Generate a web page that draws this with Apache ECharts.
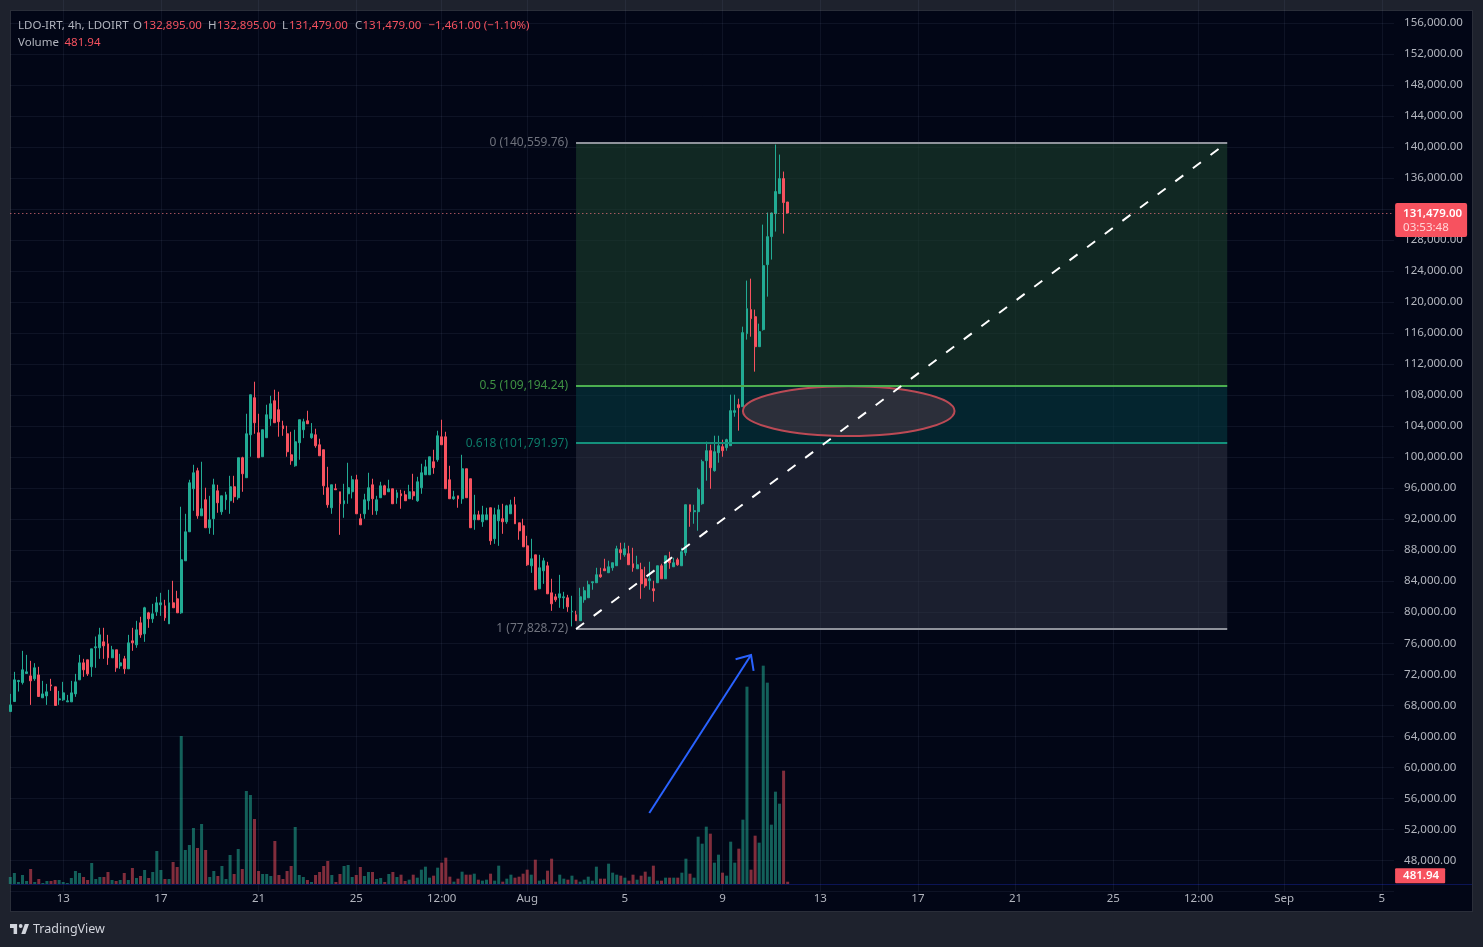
<!DOCTYPE html>
<html>
<head>
<meta charset="utf-8">
<title>LDO-IRT</title>
<script src="https://cdn.jsdelivr.net/npm/echarts@6/dist/echarts.min.js"></script>
<style>
html, body { margin: 0; padding: 0; background: #1e222d; }
#main { width: 1483px; height: 947px; }
</style>
</head>
<body>
<div id="main"></div>
<script>
// 4h candles, index 0 is the bar cut by the left edge
var opens = [67190,68480,71060,70930,72100,71790,71410,71920,68960,69210,
70630,70380,68700,68700,68440,68440,69470,71280,73470,73860,
72960,75410,75410,76180,75920,74120,75150,73080,73990,72700,
76310,75790,78630,77210,79920,79150,80050,80950,80820,78500,
81210,81730,79920,86630,90370,95920,98240,92430,94500,90890,
92050,95660,92950,94500,94370,96180,94760,99920,97340,102880,
107660,103140,100050,102500,104950,107270,106110,104040,103010,100300,
98880,101850,103530,104690,102500,102880,101590,100950,96050,93470,
95920,95530,93980,95270,95530,97080,92050,92690,94370,96430,
93080,94760,96300,95530,95920,94760,95270,95140,94630,95530,
94370,96050,97720,97720,99400,99660,102620,102620,97080,94630,
95010,94630,98500,97210,91920,92560,91660,91920,93470,89470,
91790,92050,91660,92690,93850,91530,91140,88560,85980,87400,
83020,85340,85980,82500,81980,81860,81860,81860,80060,79670,
78900,81610,81860,83800,83800,84830,85600,85090,85730,85990,
88060,87410,87540,86250,85600,85480,84310,84060,83020,83800,
85990,84310,86890,85860,86770,85990,87670,93860,92960,92960,
93990,99540,100830,98250,100570,101340,101210,101470,105770,106760,
106500,115920,119020,118110,114240,116440,124820,128430,131400,133980,135910,132895];
var closes = [68050,71280,71190,72570,72310,71150,72830,69130,69470,69730,
70500,67970,68830,69600,68570,69600,71020,73470,72570,72050,
75280,75540,77080,75660,74120,75150,72830,73470,72700,76050,
76050,77730,77080,80570,79150,79790,81210,81210,79280,81210,
80570,79920,86760,90370,96690,97980,92430,93340,90890,91920,
96430,94110,95010,95140,96180,94890,99920,97850,103010,108040,
104430,99920,103530,105460,106880,104430,104560,103660,100690,99530,
101980,104820,104560,104300,103010,101460,100170,96300,93850,96430,
95790,93980,94370,96050,97080,92690,91270,94500,96050,94630,
94500,96300,95140,95920,93980,95400,95010,94370,95530,95010,
96820,97980,98750,100040,98630,102750,101590,95920,94630,94880,
94630,98500,94760,90890,92560,91920,92560,92560,89210,92560,
93210,91660,93720,93850,91400,90500,88430,86110,86890,82890,
85730,86630,82370,81080,81600,82370,81980,80690,80140,78900,
81990,82770,83540,83930,84830,84570,85350,85860,86380,88180,
87670,88180,86120,85730,86120,83670,83410,84310,82770,85990,
84310,87280,86380,86380,86120,87800,93860,92960,93090,95800,
99410,100830,98630,100700,101470,100830,102250,105990,105990,106370,
116050,119140,117850,114240,116180,124690,128430,131480,134240,135910,132820,131479];
var highs = [69470,72310,71280,75020,74500,73730,73430,72960,71150,70760,
71410,70380,69860,71020,69340,71150,72050,74500,73990,73860,
75280,76870,77990,77990,77080,75660,75150,74630,74370,77080,
77990,78890,79410,80700,80050,81080,81990,82500,81600,82890,
84050,82760,93600,92690,97080,99010,98630,99400,96050,95010,
97210,96430,95010,95530,97590,97590,99920,100050,105590,108040,
109720,105590,103530,106750,107910,108690,108430,104690,104040,103270,
103530,104820,104950,105980,104390,103660,102370,100950,98750,96430,
96560,95530,96560,99270,97590,97720,92690,95270,97980,97210,
95010,96820,96430,97080,95920,95790,95790,95660,96430,97850,
97460,99140,99660,100040,100950,103400,104820,103270,98880,95660,
95010,100300,98500,97210,95140,93080,93720,93470,93470,93470,
93850,93980,93850,94500,94880,91530,92050,89850,89470,87400,
87400,87020,86500,84310,82370,84820,82630,82240,82120,80190,
83150,83280,84060,83930,85730,85730,86890,86640,86380,88570,
88960,88960,88570,88310,87280,86380,85860,86510,84060,85990,
86250,87280,87800,87020,87020,88310,93860,93860,93860,96050,
99670,101990,101600,102760,102760,102250,102370,108050,108050,107530,
116820,122760,123010,119020,117210,129980,131530,131530,140300,139010,136820,132895];
var lows = [67190,68480,69770,70680,72100,68050,71150,69130,68960,68050,
69860,67970,68050,68570,68440,68440,69090,71280,71670,71790,
71670,72830,73990,73990,73210,74120,72310,72700,72050,72700,
75020,75410,76700,76180,77990,78630,79530,79530,78890,78500,
80570,79920,79790,86630,90370,93080,92050,92430,90890,90110,
89980,92820,92560,93210,92690,94110,94500,95530,97340,100050,
103010,99920,100050,102500,104040,104430,102630,102750,100050,99010,
98760,99660,102450,104300,102370,101210,100170,95140,93470,92690,
95790,89980,92180,93980,94670,92690,91270,92050,93210,92560,
92560,94760,95140,95530,93980,93980,93340,94370,94630,94500,
94240,95270,97720,97720,97850,99400,101590,95920,94630,94500,
93470,93980,94760,90890,90630,91920,91010,91920,88690,88820,
88560,90110,91400,92690,91400,89340,88430,85980,85080,82890,
83020,83660,82370,80180,81340,80570,80440,80050,78170,78900,
78900,81220,81860,82900,83800,84440,85350,85090,85350,85990,
86770,87150,86120,85220,85600,81730,83150,82900,81350,83800,
84310,84310,85600,85860,85990,85990,87280,91020,91410,90510,
93860,96960,95920,98120,99280,100050,100830,101470,105210,103410,
106500,115150,115530,111020,114240,116310,120690,125470,129080,133980,128820,131479];
var volumes = [1470,2310,420,1890,630,3150,420,1050,210,630,630,840,840,420,210,1260,2730,2310,1470,840,
4410,1050,1470,1470,2520,840,630,840,2310,840,3360,1260,1680,2940,1260,2520,6930,2940,1050,1050,
4620,3570,31080,7140,8190,11760,7560,12600,7140,1470,2730,1680,3780,1050,6090,2100,7350,3150,19530,18690,
13650,2730,2100,2100,1680,9030,1890,1050,2730,3780,11970,1890,1470,840,420,1890,2520,3780,4830,1890,
420,2100,3780,3990,1470,1890,3570,1680,2520,2520,1050,1260,420,2100,2520,1470,
1960,630,910,1960,1330,3010,3640,1330,1750,3430,4480,5530,1540,490,1120,2590,1960,1960,2170,910,
700,910,2170,700,3850,490,1120,1960,1330,1540,2170,3010,1960,5110,700,910,2800,5320,490,1960,
1120,910,1750,910,490,910,1540,700,3640,1120,1120,4270,2380,1960,1750,1330,700,1960,910,1750,
2590,1540,3850,700,700,1330,1330,1330,1330,2380,5320,2170,1330,9940,8470,12040,10570,4480,6160,2380,
1750,8890,4480,7420,13510,41440,3010,10150,8680,45850,42280,12460,19390,16870,23800,481.94];

// time scale: bar index of every labelled tick, and its label
var tickBars = [13,37,61,85,106,127,151,175,199,223,247,271,292,313,337];
var tickLabels = ['13','17','21','25','12:00','Aug','5','9','13','17','21','25','12:00','Sep','5'];
var barCount = 341;

// fib tool
var fibStartBar = 139, fibEndBar = 299;
var fibLevels = [140559.76, 109194.24, 101791.97, 77828.72];
var fibNames = ['0 (140,559.76)', '0.5 (109,194.24)', '0.618 (101,791.97)', '1 (77,828.72)'];
var fibLineColors = ['#8f929b', '#4caf50', '#14917c', '#8f929b'];
var fibTextColors = ['#6f727d', '#3f9143', '#0d7a68', '#6f727d'];
var fibFills = ['rgba(28,62,44,0.62)', 'rgba(6,57,63,0.62)', 'rgba(52,56,70,0.52)'];

// drawings: [barA, priceA, barB, priceB]
var ellipseBox = [180, 109150, 232, 102720];
var arrowLine = [157, 54100, 182, 74480];

var lastPrice = 131479;
var lastVolume = 481.94;

var UP = '#22ab94', DOWN = '#f7525f';
var FONT = '"Noto Sans", sans-serif';
var FRAME = '#1e222d', EDGE = '#2a2e39', PANE = '#020616', GRID = 'rgba(125,135,175,0.1)';

var categories = [];
for (var i = 0; i < barCount; i++) {
    var at = tickBars.indexOf(i);
    categories.push(at >= 0 ? tickLabels[at] : '');
}
var candles = opens.map(function (o, k) {
    return [o, closes[k], lows[k], highs[k]];
});
var volumeBars = volumes.map(function (v, k) {
    return {
        value: v,
        itemStyle: { color: closes[k] >= opens[k] ? 'rgba(34,171,148,0.55)' : 'rgba(247,82,95,0.52)' }
    };
});
function isTick(index, value) {
    return value !== '';
}

// fib bands and lines
var fibAreas = fibFills.map(function (fill, k) {
    return [
        { xAxis: fibStartBar, yAxis: fibLevels[k], itemStyle: { color: fill } },
        { xAxis: fibEndBar, yAxis: fibLevels[k + 1] }
    ];
});
var fibLines = fibLevels.map(function (level, k) {
    return [
        {
            xAxis: fibStartBar, yAxis: level,
            lineStyle: { color: fibLineColors[k], width: 2, type: 'solid' },
            label: {
                show: true, position: 'start', distance: 8, formatter: fibNames[k],
                color: fibTextColors[k], fontFamily: FONT, fontSize: 12
            }
        },
        { xAxis: fibEndBar, yAxis: level }
    ];
});
var trendLine = [
    { xAxis: fibStartBar, yAxis: fibLevels[3], lineStyle: { color: '#ffffff', width: 2, type: [10, 12] }, label: { show: false } },
    { xAxis: fibEndBar, yAxis: fibLevels[0] }
];
var lastPriceLine = {
    yAxis: lastPrice,
    lineStyle: { color: '#e8737d', width: 1, type: [1, 3] },
    label: {
        show: true, position: 'end', distance: 1, offset: [0, 7],
        formatter: '{a|131,479.00}\n{b|03:53:48}',
        backgroundColor: DOWN, padding: [3, 5, 2, 8], borderRadius: 2,
        rich: {
            a: { color: '#ffffff', fontFamily: FONT, fontSize: 11.5, fontWeight: 600, lineHeight: 15 },
            b: { color: '#ffd5d8', fontFamily: FONT, fontSize: 11.5, lineHeight: 14 }
        }
    }
};

function renderEllipse(params, api) {
    var a = api.coord([api.value(0), api.value(1)]);
    var b = api.coord([api.value(2), api.value(3)]);
    return {
        type: 'ellipse',
        shape: { cx: (a[0] + b[0]) / 2, cy: (a[1] + b[1]) / 2, rx: (b[0] - a[0]) / 2, ry: (b[1] - a[1]) / 2 },
        style: { fill: 'rgba(242,100,110,0.17)', stroke: '#bb4a55', lineWidth: 2 }
    };
}
function renderArrow(params, api) {
    var a = api.coord([api.value(0), api.value(1)]);
    var b = api.coord([api.value(2), api.value(3)]);
    var back = Math.atan2(a[1] - b[1], a[0] - b[0]);
    var spread = 42 * Math.PI / 180, len = 16;
    var arm1 = [b[0] + len * Math.cos(back + spread), b[1] + len * Math.sin(back + spread)];
    var arm2 = [b[0] + len * Math.cos(back - spread), b[1] + len * Math.sin(back - spread)];
    var style = { fill: 'none', stroke: '#2962ff', lineWidth: 2 };
    return {
        type: 'group',
        children: [
            { type: 'polyline', shape: { points: [a, b] }, style: style },
            { type: 'polyline', shape: { points: [arm1, b, arm2] }, style: style }
        ]
    };
}

function headerText(x, y, text, color) {
    return {
        type: 'text', x: x, y: y,
        style: { text: text, fill: color, font: '11.5px ' + FONT, textVerticalAlign: 'middle' }
    };
}
function box(x, y, w, h, color) {
    return { type: 'rect', shape: { x: x, y: y, width: w, height: h }, style: { fill: color } };
}

var myChart = echarts.init(document.getElementById('main'));
myChart.setOption({
    animation: false,
    backgroundColor: PANE,
    grid: [
        { left: 10.3, width: 1383.8, top: -8.2, height: 899.6, outerBoundsMode: 'none' },
        { left: 10.3, width: 1383.8, top: 584, height: 300, outerBoundsMode: 'none' }
    ],
    xAxis: [
        // gridlines only, stay under the time scale band
        {
            type: 'category', gridIndex: 0, position: 'bottom', data: categories, boundaryGap: false, z: 0,
            axisLine: { show: false }, axisTick: { show: false }, axisLabel: { show: false },
            splitLine: { show: true, interval: isTick, lineStyle: { color: GRID, width: 1 } }
        },
        // time scale labels
        {
            type: 'category', gridIndex: 0, position: 'bottom', data: categories, boundaryGap: false, z: 10,
            axisLine: { show: false }, axisTick: { show: false }, splitLine: { show: false },
            axisLabel: {
                interval: isTick, margin: 1, hideOverlap: false,
                color: '#b2b5be', fontFamily: FONT, fontSize: 11.5
            }
        },
        {
            type: 'category', gridIndex: 1, position: 'bottom', data: categories, boundaryGap: false, show: false
        }
    ],
    yAxis: [
        {
            type: 'value', gridIndex: 0, position: 'right', min: 44000, max: 160000, interval: 4000, scale: true,
            axisLine: { show: false }, axisTick: { show: false },
            axisLabel: {
                margin: 10, showMinLabel: false, showMaxLabel: false,
                color: '#b2b5be', fontFamily: FONT, fontSize: 11.5,
                formatter: function (v) {
                    return v.toLocaleString('en-US', { minimumFractionDigits: 2, maximumFractionDigits: 2 });
                }
            },
            splitLine: { show: true, lineStyle: { color: GRID, width: 1 } }
        },
        { type: 'value', gridIndex: 1, min: 0, max: 63000, show: false }
    ],
    series: [
        {
            type: 'bar',
            xAxisIndex: 2,
            yAxisIndex: 1,
            data: volumeBars,
            barWidth: 3,
            z: 1,
            markLine: {
                silent: true, symbol: 'none',
                lineStyle: { color: 'rgba(0,0,0,0)', width: 0 },
                data: [{
                    yAxis: lastVolume,
                    label: {
                        show: true, position: 'end', distance: 1, offset: [0, -6],
                        formatter: '481.94', color: '#ffffff', fontFamily: FONT, fontSize: 11.5, fontWeight: 600,
                        backgroundColor: DOWN, padding: [2, 6, 1, 8], borderRadius: 1
                    }
                }]
            }
        },
        {
            type: 'candlestick',
            xAxisIndex: 0,
            yAxisIndex: 0,
            data: candles,
            barWidth: 2.4,
            z: 2,
            itemStyle: { color: UP, color0: DOWN, borderColor: UP, borderColor0: DOWN, borderWidth: 1 },
            markArea: { silent: true, data: fibAreas },
            markLine: {
                silent: true, symbol: 'none',
                data: fibLines.concat([trendLine, lastPriceLine])
            }
        },
        {
            type: 'custom', name: 'ellipse', xAxisIndex: 0, yAxisIndex: 0, z: 3, silent: true,
            renderItem: renderEllipse, encode: { x: [0, 2], y: [1, 3] }, data: [ellipseBox]
        },
        {
            type: 'custom', name: 'arrow', xAxisIndex: 0, yAxisIndex: 0, z: 3, silent: true,
            renderItem: renderArrow, encode: { x: [0, 2], y: [1, 3] }, data: [arrowLine]
        }
    ],
    graphic: {
        z: 5,
        elements: [
            // time scale band and navy baseline
            box(10, 885, 1463, 26, PANE),
            box(10, 884, 1463, 1, '#0b1455'),
            // outer frame
            box(0, 0, 1483, 10, FRAME),
            box(0, 912, 1483, 35, FRAME),
            box(0, 0, 10, 947, FRAME),
            box(1473, 0, 10, 947, FRAME),
            box(10, 10, 1463, 1, EDGE),
            box(10, 911, 1463, 1, EDGE),
            box(10, 10, 1, 902, EDGE),
            box(1472, 10, 1, 902, EDGE),
            // legend
            headerText(18, 25.5, 'LDO-IRT, 4h, LDOIRT', '#b2b5be'),
            headerText(133, 25.5, 'O', '#b2b5be'),
            headerText(143, 25.5, '132,895.00', DOWN),
            headerText(208, 25.5, 'H', '#b2b5be'),
            headerText(217, 25.5, '132,895.00', DOWN),
            headerText(282, 25.5, 'L', '#b2b5be'),
            headerText(289, 25.5, '131,479.00', DOWN),
            headerText(355, 25.5, 'C', '#b2b5be'),
            headerText(362.5, 25.5, '131,479.00', DOWN),
            headerText(428.5, 25.5, '\u22121,461.00 (\u22121.10%)', DOWN),
            headerText(18, 42.5, 'Volume', '#b2b5be'),
            headerText(64.5, 42.5, '481.94', DOWN),
            // logo
            { type: 'polygon', shape: { points: [[10, 924], [17.1, 924], [17.1, 934], [13.6, 934], [13.6, 928], [10, 928]] }, style: { fill: '#d1d4dc' } },
            { type: 'polygon', shape: { points: [[25.4, 934], [21.3, 934], [24.8, 924], [29, 924]] }, style: { fill: '#d1d4dc' } },
            { type: 'circle', shape: { cx: 20.7, cy: 926, r: 1.9 }, style: { fill: '#d1d4dc' } },
            {
                type: 'text', x: 33, y: 929,
                style: { text: 'TradingView', fill: '#d1d4dc', font: '12.5px ' + FONT, textVerticalAlign: 'middle' }
            }
        ]
    }
});
</script>
</body>
</html>
